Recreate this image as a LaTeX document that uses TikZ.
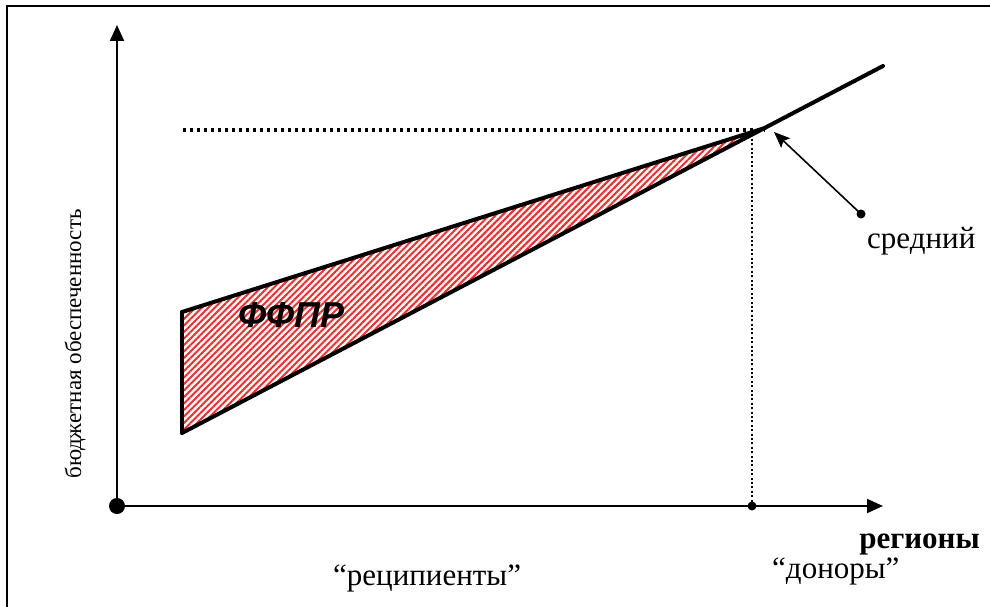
\documentclass[tikz,border=0pt]{standalone}
\usepackage{fontspec}
\setmainfont{Liberation Serif}
\newfontfamily\arialfont{Liberation Sans}
\usetikzlibrary{arrows.meta,patterns.meta,positioning}
\tikzset{
  frameln/.style ={line width=2pt},
  axln/.style    ={line width=2pt, -{Triangle[length=16pt,width=14pt]}},
  edgeln/.style  ={line width=4pt, line cap=round},
  hdots/.style   ={line width=3.2pt, dash pattern=on 3.2pt off 3.8pt},
  vdots/.style   ={line width=2pt, dash pattern=on 2pt off 2.4pt},
  ptr/.style     ={line width=1.6pt, -{Stealth[length=16pt,width=13pt,inset=3pt]}},
  bigdot/.style  ={circle, fill=black, inner sep=0pt, minimum size=16pt},
  smalldot/.style={circle, fill=black, inner sep=0pt, minimum size=9pt},
  lbl/.style     ={inner sep=0pt, font=\fontsize{31}{36}\selectfont},
  blbl/.style    ={inner sep=0pt, font=\fontsize{31}{36}\selectfont\bfseries},
  ylbl/.style    ={inner sep=0pt, font=\fontsize{23}{28}\selectfont},
  fflbl/.style   ={inner sep=0pt, font=\arialfont\fontsize{36}{42}\selectfont\bfseries\itshape},
  hatch/.style   ={pattern={Lines[angle=45,distance=4.6pt,line width=2pt]}, pattern color=red!85}
}

\begin{document}
\begin{tikzpicture}[x=1pt,y=-1pt]
\useasboundingbox (0,0) rectangle (990,607);
\draw[frameln] (7,607) -- (7,6) -- (990,6);

% points of the graph
\coordinate (ytip) at (117,25);
\coordinate (xtip) at (883,506);
\coordinate (A)    at (182,312);
\coordinate (B)    at (182,433);
\coordinate (M)    at (765,128);
\coordinate (L)    at (883,66);
\coordinate (hl)   at (183,130);
\coordinate (hr)   at (765,130);
\coordinate (vt)   at (752,130);
\coordinate (mtip) at (774,132);

\node[bigdot]   (O) at (117,506) {};
\node[smalldot] (D) at (752,506) {};
\node[smalldot] (sdot) at (861,214) {};

% shaded region
\fill[hatch] (A) -- (M) -- (B) -- cycle;
\draw[edgeln] (A) -- (M);
\draw[edgeln] (A) -- (B);
\draw[edgeln] (B) -- (L);

\draw[hdots] (hl) -- (hr);
\draw[vdots] (D.center) -- (vt);

\draw[axln] (O.center) -- (ytip);
\draw[axln] (O.center) -- (xtip);
\draw[ptr] (sdot.center) -- (mtip);

\node[lbl, anchor=base west]  (sred) at (867,248) {средний};
\node[fflbl, anchor=base west] (ffpr) at (238,327) {ФФПР};
\node[blbl, anchor=base east] (reg)  at (980,548) {регионы};
\node[lbl, anchor=base west]  (don)  at (772,578) {“доноры”};
\node[lbl, anchor=base west]  (rec)  at (333,585) {“реципиенты”};
\node[ylbl, rotate=90]        (ylab) at (75,344) {бюджетная обеспеченность};
\end{tikzpicture}
\end{document}
